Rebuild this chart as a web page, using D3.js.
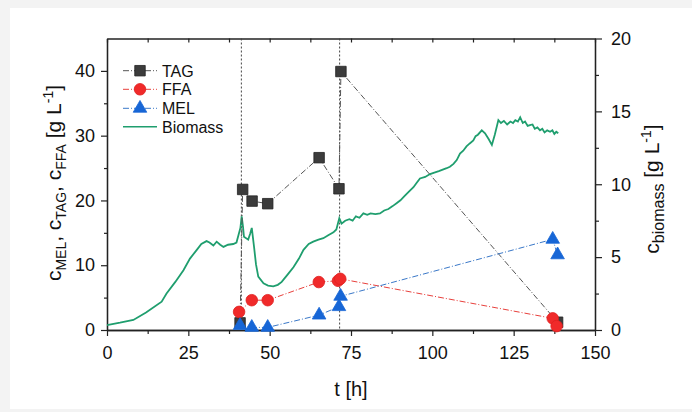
<!DOCTYPE html>
<html>
<head>
<meta charset="utf-8">
<script src="https://cdn.jsdelivr.net/npm/d3@7"></script>
<style>
  body { margin: 0; background: #f3f3f3; }
  svg { display: block; font-family: "Liberation Sans", Arial, sans-serif; }
</style>
</head>
<body>
<svg width="692" height="412"></svg>
<script>
// data
var tagTime = [40.9, 41.7, 44.6, 49.4, 65.2, 71.3, 71.9, 138.5];
var tagConc = [1.1, 21.7, 19.9, 19.5, 26.6, 21.8, 39.9, 1.2];

var ffaTime = [40.6, 44.5, 49.4, 65.1, 71.0, 71.7, 137.0, 138.2];
var ffaConc = [2.8, 4.6, 4.6, 7.4, 7.6, 7.9, 1.8, 0.6];

var melTime = [40.9, 44.5, 49.4, 65.2, 71.3, 71.8, 137.0, 138.5];
var melConc = [0.7, 0.4, 0.4, 2.3, 3.6, 5.2, 14.0, 11.6];

var bioTime = [0, 4, 8.1, 12, 16.8, 18.3, 21, 23.5, 25.5, 27.6, 29, 30.6, 31.5, 32.7, 33.7, 34.8, 35.8, 37.2, 38.8, 39.8,
  40.4, 41.0, 41.4, 41.8, 42.1, 43.4, 44.0, 44.5, 45.2, 45.8, 46.5, 48.1, 49.5, 51.1, 52.5, 53.7, 55.5, 57.3, 59,
  60.4, 62, 63.4, 65, 66.5, 68, 69.6, 70.5, 71.4, 72.1, 73.2, 74.5, 75.5, 76.5, 77.6, 78.8, 80, 81, 82.5, 83.9,
  85.2, 86.5, 87.8, 89, 90.2, 91.5, 92.8, 94.2, 95.2, 96.2, 97.8, 99.3, 100.6, 102, 103.2, 104.4, 105.4, 106.5,
  107.5, 108.5, 109.5, 110.5, 111.5, 112.6, 113.3, 114, 115.2, 116.2, 117.3, 118.3, 119.2, 120.3, 121.1, 122,
  123, 124, 124.8, 125.5, 126.3, 127, 127.8, 128.5, 129.3, 130, 130.8, 131.5, 132.3, 133.1, 133.8, 134.5, 135.3,
  136.2, 136.9, 137.5, 138.1, 138.7];
var bioConc = [0.34, 0.5, 0.69, 1.2, 1.94, 2.5, 3.3, 4.1, 4.9, 5.5, 5.9, 6.1, 6.0, 5.8, 6.06, 5.85, 5.7, 5.85, 5.9, 6.0,
  6.5, 7.0, 7.8, 7.1, 6.4, 6.2, 6.6, 7.0, 5.7, 4.5, 3.66, 3.2, 3.05, 3.0, 3.1, 3.3, 3.8, 4.3, 4.9,
  5.5, 5.9, 6.06, 6.2, 6.3, 6.5, 6.7, 6.9, 7.66, 7.3, 7.5, 7.6, 7.5, 7.8, 7.7, 8.0, 7.9, 8.0, 7.95, 8.0,
  8.2, 8.3, 8.5, 8.7, 8.9, 9.2, 9.5, 9.8, 10.1, 10.4, 10.5, 10.7, 10.8, 10.9, 11.0, 11.1, 11.2, 11.4,
  11.66, 12.1, 12.3, 12.6, 12.8, 13.0, 13.3, 13.4, 13.7, 13.5, 13.1, 12.7, 13.4, 14.4, 14.2, 14.35,
  14.1, 14.3, 14.2, 14.4, 14.3, 14.6, 14.2, 14.3, 14.0, 14.06, 14.1, 13.8, 13.9, 13.7, 13.8, 13.55, 13.7,
  13.6, 13.7, 13.45, 13.6, 13.5];

var xTicks = [0, 25, 50, 75, 100, 125, 150];
var yLeftTicks = [0, 10, 20, 30, 40];
var yRightTicks = [0, 5, 10, 15, 20];

var svg = d3.select("svg");

// white card
svg.append("rect")
   .attr("x", 10).attr("y", 8)
   .attr("width", 682).attr("height", 401)
   .attr("fill", "#fff");

var pLeft = 107, pRight = 595, pTop = 38.5, pBottom = 330;

var x = d3.scaleLinear().domain([0, 150]).range([pLeft, pRight]);
var yL = d3.scaleLinear().domain([0, 45]).range([pBottom, pTop]);
var yR = d3.scaleLinear().domain([0, 20]).range([pBottom, pTop]);

var minorX = d3.range(12.5, 150, 25);

function styleAxis(g) {
  g.selectAll("path").attr("stroke", "#222").attr("stroke-width", 1.3);
  g.selectAll("line").attr("stroke", "#222").attr("stroke-width", 1.2);
  g.selectAll("text").attr("fill", "#111").style("font-size", "18px");
}

// bottom axis
svg.append("g")
   .attr("transform", "translate(0," + pBottom + ")")
   .call(d3.axisBottom(x).tickValues(xTicks).tickSize(6).tickPadding(10).tickSizeOuter(0))
   .call(styleAxis);
svg.append("g")
   .attr("transform", "translate(0," + pBottom + ")")
   .call(d3.axisBottom(x).tickValues(minorX).tickSize(4).tickFormat("").tickSizeOuter(0))
   .call(styleAxis);

// top axis, ticks inward
svg.append("g")
   .attr("transform", "translate(0," + pTop + ")")
   .call(d3.axisBottom(x).tickValues(xTicks.concat(minorX)).tickSize(4).tickFormat("").tickSizeOuter(0))
   .call(styleAxis);

// left axis
svg.append("g")
   .attr("transform", "translate(" + pLeft + ",0)")
   .call(d3.axisLeft(yL).tickValues(yLeftTicks).tickSize(6).tickPadding(6).tickSizeOuter(0))
   .call(styleAxis);
svg.append("g")
   .attr("transform", "translate(" + pLeft + ",0)")
   .call(d3.axisLeft(yL).tickValues([5, 15, 25, 35]).tickSize(3).tickFormat("").tickSizeOuter(0))
   .call(styleAxis);

// right axis
svg.append("g")
   .attr("transform", "translate(" + pRight + ",0)")
   .call(d3.axisRight(yR).tickValues(yRightTicks).tickSize(7).tickPadding(9).tickSizeOuter(0))
   .call(styleAxis);
svg.append("g")
   .attr("transform", "translate(" + pRight + ",0)")
   .call(d3.axisRight(yR).tickValues([2.5, 7.5, 12.5, 17.5]).tickSize(4).tickFormat("").tickSizeOuter(0))
   .call(styleAxis);

// vertical reference lines
[41.3, 71.5].forEach(function(t) {
  svg.append("line")
     .attr("x1", x(t)).attr("x2", x(t))
     .attr("y1", pTop).attr("y2", pBottom)
     .attr("stroke", "#444").attr("stroke-width", 1)
     .attr("stroke-dasharray", "2,2");
});

// biomass curve
var bio = bioTime.map(function(t, i) { return [t, bioConc[i]]; });
svg.append("path")
   .datum(bio)
   .attr("fill", "none")
   .attr("stroke", "#1f9e6e")
   .attr("stroke-width", 1.8)
   .attr("d", d3.line().x(function(d) { return x(d[0]); }).y(function(d) { return yR(d[1]); }));

var lineL = d3.line().x(function(d) { return x(d[0]); }).y(function(d) { return yL(d[1]); });

var series = [
  { name: "TAG", t: tagTime, v: tagConc, color: "#555", fill: "#3c3c3c", stroke: "#222", shape: d3.symbolSquare, size: 110 },
  { name: "FFA", t: ffaTime, v: ffaConc, color: "#e8403c", fill: "#f02a2a", stroke: "#e02020", shape: d3.symbolCircle, size: 105 },
  { name: "MEL", t: melTime, v: melConc, color: "#3a78c8", fill: "#1766d6", stroke: "#1766d6", shape: d3.symbolTriangle, size: 80 }
];

series.forEach(function(s) {
  var pts = s.t.map(function(t, i) { return [t, s.v[i]]; });
  svg.append("path")
     .datum(pts)
     .attr("fill", "none")
     .attr("stroke", s.color)
     .attr("stroke-width", 1)
     .attr("stroke-dasharray", "6,2,1,2")
     .attr("d", lineL);
});

series.forEach(function(s) {
  var pts = s.t.map(function(t, i) { return [t, s.v[i]]; });
  svg.selectAll(null)
     .data(pts)
     .enter().append("path")
     .attr("transform", function(d) { return "translate(" + x(d[0]) + "," + yL(d[1]) + ")"; })
     .attr("d", d3.symbol().type(s.shape).size(s.size))
     .attr("fill", s.fill)
     .attr("stroke", s.stroke)
     .attr("stroke-width", 0.8);
});

// legend
var legY = [70.7, 89.3, 108.3, 126.7];
series.forEach(function(s, i) {
  var g = svg.append("g").attr("transform", "translate(0," + legY[i] + ")");
  g.append("line").attr("x1", 123).attr("x2", 157).attr("y1", 0).attr("y2", 0)
   .attr("stroke", s.color).attr("stroke-width", 1).attr("stroke-dasharray", "6,2,1,2");
  g.append("path").attr("transform", "translate(140,0)")
   .attr("d", d3.symbol().type(s.shape).size(s.size))
   .attr("fill", s.fill).attr("stroke", s.stroke).attr("stroke-width", 0.8);
  g.append("text").attr("x", 162).attr("y", 6).style("font-size", "16px").attr("fill", "#111").text(s.name);
});
var gb = svg.append("g").attr("transform", "translate(0," + legY[3] + ")");
gb.append("line").attr("x1", 123).attr("x2", 157).attr("y1", 0).attr("y2", 0)
  .attr("stroke", "#1f9e6e").attr("stroke-width", 1.5);
gb.append("text").attr("x", 162).attr("y", 6).style("font-size", "16px").attr("fill", "#111").text("Biomass");

// axis titles
svg.append("text")
   .attr("x", 351).attr("y", 396)
   .attr("text-anchor", "middle")
   .style("font-size", "20px").attr("fill", "#111")
   .text("t [h]");

var lt = svg.append("text")
   .attr("transform", "translate(61,183) rotate(-90)")
   .attr("text-anchor", "middle")
   .style("font-size", "21px").attr("fill", "#111");
lt.append("tspan").text("c");
lt.append("tspan").attr("dy", 5).style("font-size", "14px").text("MEL");
lt.append("tspan").attr("dy", -5).text(", c");
lt.append("tspan").attr("dy", 5).style("font-size", "14px").text("TAG");
lt.append("tspan").attr("dy", -5).text(", c");
lt.append("tspan").attr("dy", 5).style("font-size", "14px").text("FFA");
lt.append("tspan").attr("dy", -5).text(" [g L");
lt.append("tspan").attr("dy", -8).style("font-size", "14px").text("-1");
lt.append("tspan").attr("dy", 8).text("]");

var rt = svg.append("text")
   .attr("transform", "translate(659,189) rotate(-90)")
   .attr("text-anchor", "middle")
   .style("font-size", "21px").attr("fill", "#111");
rt.append("tspan").text("c");
rt.append("tspan").attr("dy", 5).style("font-size", "16px").text("biomass");
rt.append("tspan").attr("dy", -5).text(" [g L");
rt.append("tspan").attr("dy", -8).style("font-size", "14px").text("-1");
rt.append("tspan").attr("dy", 8).text("]");
</script>
</body>
</html>
